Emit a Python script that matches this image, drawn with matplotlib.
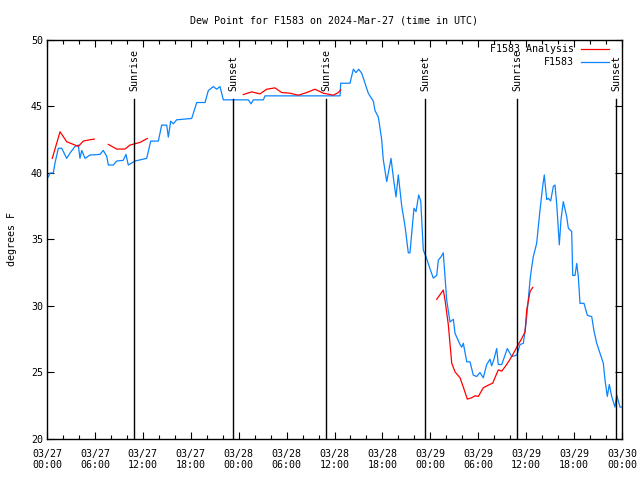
import matplotlib
matplotlib.use("Agg")
import matplotlib.pyplot as plt
from matplotlib.ticker import MultipleLocator, FixedLocator

plt.rcParams['font.family'] = ['DejaVu Sans Mono']

# hours since 03/27 00:00 UTC
obs_h = [0.16, 0.38, 0.79, 1.0, 1.42, 1.84, 2.47, 2.88, 3.51, 3.92, 4.13, 4.35, 4.76, 5.38, 6.64, 7.05,
         7.48, 7.68, 8.30, 8.73, 9.55, 9.89, 10.18, 11.02, 12.48, 12.99, 13.94, 14.36, 14.99, 15.19,
         15.49, 15.82, 16.24, 18.12, 18.75, 19.79, 20.20, 20.82, 21.25, 21.66, 22.08, 25.21, 25.55,
         25.83, 27.09, 27.30, 36.69, 36.78, 37.94, 38.36, 38.69, 39.03, 39.41, 39.82, 40.23, 40.86,
         41.07, 41.49, 41.91, 42.11, 42.54, 43.08, 43.36, 43.70, 43.99, 44.42, 44.83, 45.24, 45.45,
         45.67, 45.95, 46.21, 46.54, 46.80, 47.12, 47.46, 47.96, 48.37, 48.80, 49.00, 49.34, 49.62,
         50.05, 50.46, 50.88, 51.09, 51.72, 51.93, 52.13, 52.56, 52.97, 53.38, 53.81, 54.22, 54.63,
         55.06, 55.47, 55.68, 55.97, 56.31, 56.51, 56.94, 57.35, 57.64, 58.19, 58.82, 59.23, 59.65,
         59.98, 60.27, 60.49, 60.69, 60.89, 61.31, 61.73, 62.07, 62.27, 62.57, 62.77, 63.07, 63.40,
         63.61, 63.82, 64.03, 64.15, 64.36, 64.65, 65.08, 65.28, 65.70, 65.83, 66.12, 66.33, 66.53,
         66.74, 67.24, 67.66, 68.21, 68.50, 68.83, 69.25, 69.66, 69.87, 70.16, 70.41, 70.71, 71.12,
         71.34, 71.75, 71.96]
obs_v = [39.7, 40.0, 40.0, 40.75, 41.86, 41.86, 41.1, 41.5, 42.0, 42.1, 41.1, 41.7, 41.1, 41.35, 41.4, 41.7,
         41.25, 40.6, 40.6, 40.9, 40.95, 41.4, 40.6, 40.9, 41.1, 42.4, 42.4, 43.6, 43.6, 42.7,
         43.9, 43.7, 44.0, 44.1, 45.3, 45.3, 46.2, 46.5, 46.3, 46.5, 45.5, 45.5, 45.2,
         45.5, 45.5, 45.8, 45.8, 46.75, 46.75, 47.8, 47.55, 47.8, 47.5, 46.75, 46.0, 45.4,
         44.7, 44.2, 42.5, 41.0, 39.35, 41.1, 39.7, 38.2, 39.85, 37.5, 36.0, 34.0, 34.0,
         35.5, 37.35, 37.1, 38.35, 37.9, 34.2, 33.7, 32.8, 32.1, 32.3, 33.45, 33.7, 34.0,
         30.45, 28.8, 29.0, 27.95, 27.1, 26.9, 27.2, 25.8, 25.8, 24.8, 24.7, 25.0, 24.6,
         25.6, 26.0, 25.5, 26.0, 26.8, 25.6, 25.6, 26.3, 26.8, 26.2, 26.3, 27.1, 27.2,
         28.7, 30.5, 32.0, 32.9, 33.7, 34.7, 37.2, 39.0, 39.85, 38.0, 38.1, 37.9, 39.0,
         39.1, 37.7, 35.7, 34.6, 36.5, 37.85, 36.7, 35.85, 35.6, 32.3, 32.3, 33.2, 32.2,
         30.2, 30.2, 29.3, 29.2, 28.1, 27.2, 26.45, 25.7, 24.45, 23.2, 24.1, 23.2, 22.4,
         23.3, 22.4, 22.4]

ana1_h = [0.66, 1.63, 2.47, 3.09, 3.92, 4.55, 5.38, 5.92]
ana1_v = [41.1, 43.1, 42.35, 42.2, 42.0, 42.4, 42.5, 42.55]
ana2_h = [7.68, 8.73, 9.77, 10.39, 11.65, 12.56]
ana2_v = [42.15, 41.8, 41.8, 42.1, 42.3, 42.6]
ana3_h = [24.58, 25.63, 26.67, 27.51, 28.55, 29.39, 30.43, 31.47, 32.52, 33.56, 34.60, 35.85, 36.48, 36.78]
ana3_v = [45.9, 46.1, 45.95, 46.3, 46.4, 46.05, 46.0, 45.85, 46.05, 46.3, 46.0, 45.85, 46.05, 46.25]
ana4_h = [48.80, 49.62, 49.84, 50.25, 50.68, 51.09, 51.72, 52.13, 52.63, 53.18, 53.59, 54.01, 54.63,
          55.26, 55.81, 56.51, 56.94, 57.56, 58.19, 58.82, 59.44, 59.86, 60.07, 60.49, 60.83]
ana4_v = [30.5, 31.2, 30.45, 28.6, 25.7, 25.05, 24.6, 23.9, 23.0, 23.1, 23.25, 23.2, 23.85,
          24.05, 24.2, 25.2, 25.1, 25.6, 26.2, 26.9, 27.55, 28.05, 29.7, 31.1, 31.4]

sun_h = [10.93, 23.33, 34.98, 47.37, 58.9, 71.3]
sun_lbl = ["Sunrise", "Sunset", "Sunrise", "Sunset", "Sunrise", "Sunset"]

xtick_h = [0, 6, 12, 18, 24, 30, 36, 42, 48, 54, 60, 66, 72]
xtick_lbl = ["03/27\n00:00", "03/27\n06:00", "03/27\n12:00", "03/27\n18:00",
             "03/28\n00:00", "03/28\n06:00", "03/28\n12:00", "03/28\n18:00",
             "03/29\n00:00", "03/29\n06:00", "03/29\n12:00", "03/29\n18:00",
             "03/30\n00:00"]

RED = "#ff0000"
BLUE = "#0a84ff"
FS = 7.2

fig = plt.figure(figsize=(6.4, 4.8), dpi=100)
ax = fig.add_axes([47/640, 41/480, 575/640, 399/480])

for h, v in [(ana1_h, ana1_v), (ana2_h, ana2_v), (ana3_h, ana3_v), (ana4_h, ana4_v)]:
    ax.plot(h, v, color=RED, lw=0.9, zorder=3)
ax.plot(obs_h, obs_v, color=BLUE, lw=0.9, zorder=2)

for h, lbl in zip(sun_h, sun_lbl):
    ax.plot([h, h], [20, 45.56], color="black", lw=1.0, zorder=4)
    ax.text(h, 0.872, lbl, rotation=90, ha="center", va="bottom", fontsize=FS,
            transform=ax.get_xaxis_transform(), zorder=5)

ax.set_xlim(0, 72)
ax.set_ylim(20, 50)
ax.xaxis.set_major_locator(FixedLocator(xtick_h))
ax.set_xticklabels(xtick_lbl)
ax.xaxis.set_minor_locator(MultipleLocator(2))
ax.yaxis.set_major_locator(MultipleLocator(5))
ax.tick_params(axis="both", which="major", direction="in", length=5, width=0.8,
               top=True, right=True, labelsize=FS, pad=3)
ax.tick_params(axis="x", which="major", pad=7)
ax.tick_params(axis="x", which="minor", direction="in", length=3, width=0.8, top=True)
for s in ax.spines.values():
    s.set_linewidth(1.0)

ax.set_ylabel("degrees F", fontsize=FS, labelpad=10)
ax.set_title("Dew Point for F1583 on 2024-Mar-27 (time in UTC)", fontsize=FS, pad=12)

# legend (gnuplot-style)
ax.text(0.9165, 0.977, "F1583 Analysis", ha="right", va="center", fontsize=FS,
        transform=ax.transAxes, zorder=6)
ax.plot([0.9287, 0.9774], [0.977, 0.977], color=RED, lw=0.9, transform=ax.transAxes, zorder=6)
ax.text(0.9165, 0.945, "F1583", ha="right", va="center", fontsize=FS,
        transform=ax.transAxes, zorder=6)
ax.plot([0.9287, 0.9774], [0.945, 0.945], color=BLUE, lw=0.9, transform=ax.transAxes, zorder=6)

fig.savefig("out.png", dpi=100)
